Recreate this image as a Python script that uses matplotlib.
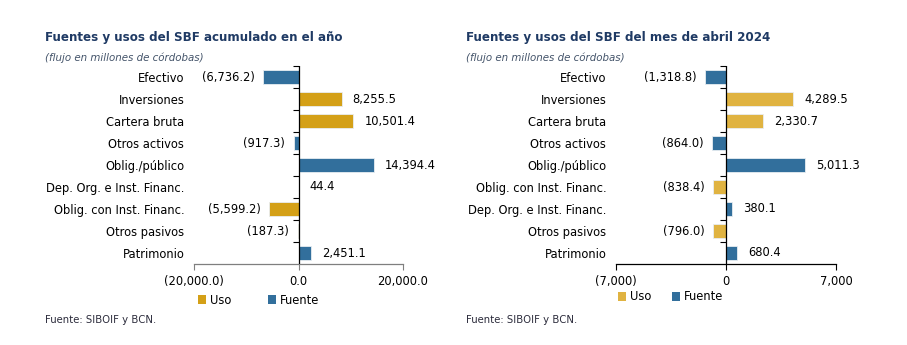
import numpy as np
import matplotlib.pyplot as plt
from matplotlib.patches import Patch

# acumulado en el año
cat_acum = ['Efectivo', 'Inversiones', 'Cartera bruta', 'Otros activos', 'Oblig./público',
            'Dep. Org. e Inst. Financ.', 'Oblig. con Inst. Financ.', 'Otros pasivos', 'Patrimonio']
val_acum = [-6736.2, 8255.5, 10501.4, -917.3, 14394.4, 44.4, -5599.2, -187.3, 2451.1]
tipo_acum = ['Fuente', 'Uso', 'Uso', 'Fuente', 'Fuente', 'Fuente', 'Uso', 'Uso', 'Fuente']

# mes de abril 2024
cat_mes = ['Efectivo', 'Inversiones', 'Cartera bruta', 'Otros activos', 'Oblig./público',
           'Oblig. con Inst. Financ.', 'Dep. Org. e Inst. Financ.', 'Otros pasivos', 'Patrimonio']
val_mes = [-1318.8, 4289.5, 2330.7, -864.0, 5011.3, -838.4, 380.1, -796.0, 680.4]
tipo_mes = ['Fuente', 'Uso', 'Uso', 'Fuente', 'Fuente', 'Uso', 'Fuente', 'Uso', 'Fuente']

AZUL = '#326f9c'
TITULO = '#1f3a64'


def fmt(v, dec):
    s = f'{abs(v):,.{dec}f}'
    return f'({s})' if v < 0 else s


def panel(ax, cats, vals, tipos, lim, dec_lbl, dec_tick, oro, eje_col):
    y = np.arange(len(cats))
    colores = [oro if t == 'Uso' else AZUL for t in tipos]
    ax.barh(y, vals, height=0.68, color=colores, edgecolor='#e8edf2', linewidth=0.6, zorder=2)
    ax.set_ylim(len(cats) - 0.5, -0.5)
    ax.set_xlim(-lim, lim)
    ax.set_yticks(y, cats)
    ax.tick_params(axis='y', length=0, pad=7, labelsize=8.3)
    ax.set_xticks([-lim, 0, lim])
    ax.set_xticklabels([fmt(t, dec_tick) for t in (-lim, 0, lim)])
    ax.tick_params(axis='x', length=4, width=0.8, color=eje_col, labelsize=8.3, pad=4)
    for s in ['left', 'right', 'top']:
        ax.spines[s].set_visible(False)
    ax.spines['bottom'].set_color(eje_col)
    ax.spines['bottom'].set_linewidth(0.9)
    # eje vertical en cero con marcas entre categorias
    ax.axvline(0, color='black', lw=0.9, zorder=3)
    ax.plot(np.zeros(len(cats)), np.arange(len(cats)) - 0.5, marker=0, ls='none',
            ms=4, mew=0.8, color='black', zorder=3, clip_on=False)
    for yi, v in zip(y, vals):
        if v < 0:
            ax.annotate(fmt(v, dec_lbl), (v, yi), xytext=(-6, 0), textcoords='offset points',
                        ha='right', va='center', fontsize=8.3)
        else:
            ax.annotate(fmt(v, dec_lbl), (v, yi), xytext=(8, 0), textcoords='offset points',
                        ha='left', va='center', fontsize=8.3)
    return ax


fig = plt.figure(figsize=(9.07, 3.45), dpi=100)

ax1 = fig.add_axes([194 / 907, 1 - 264 / 345, 209 / 907, 198 / 345])
panel(ax1, cat_acum, val_acum, tipo_acum, 20000, 1, 1, '#d4a017', '#7f7f7f')
ax2 = fig.add_axes([616 / 907, 1 - 264 / 345, 220 / 907, 198 / 345])
panel(ax2, cat_mes, val_mes, tipo_mes, 7000, 1, 0, '#e0b341', 'black')

# titulos
fig.text(45 / 907, 1 - 37 / 345, 'Fuentes y usos del SBF acumulado en el año', color=TITULO,
         fontsize=8.6, fontweight='bold', va='center')
fig.text(45 / 907, 1 - 58 / 345, '(flujo en millones de córdobas)', color='#44546a',
         fontsize=7.4, style='italic', va='center')
fig.text(466 / 907, 1 - 37 / 345, 'Fuentes y usos del SBF del mes de abril 2024', color=TITULO,
         fontsize=8.6, fontweight='bold', va='center')
fig.text(466 / 907, 1 - 58 / 345, '(flujo en millones de córdobas)', color='#44546a',
         fontsize=7.4, style='italic', va='center')

# leyendas
for x0, y0, oro, sep in [(198, 300, '#d4a017', 3.25), (618, 297, '#e0b341', 1.85)]:
    hs = [Patch(facecolor=oro, label='Uso'), Patch(facecolor=AZUL, label='Fuente')]
    fig.legend(handles=hs, loc='center left', bbox_to_anchor=(x0 / 907, 1 - y0 / 345),
               ncol=2, frameon=False, fontsize=8.3, handlelength=0.7, handleheight=0.7,
               handletextpad=0.3, columnspacing=sep, borderpad=0, borderaxespad=0)

fig.text(45 / 907, 1 - 320 / 345, 'Fuente: SIBOIF y BCN.', fontsize=7.3, color='#2b2b3b', va='center')
fig.text(466 / 907, 1 - 320 / 345, 'Fuente: SIBOIF y BCN.', fontsize=7.3, color='#2b2b3b', va='center')

fig.savefig('out.png', dpi=100)
